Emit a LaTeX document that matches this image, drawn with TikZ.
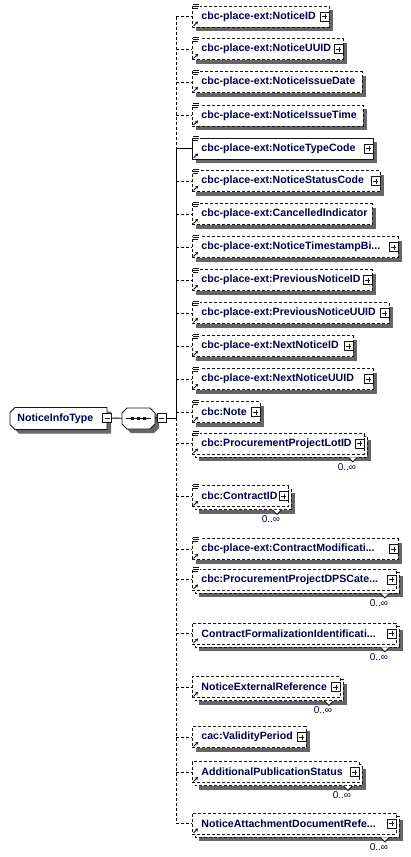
\documentclass[tikz,border=0pt]{standalone}
\usepackage{fontspec}
\setmainfont{Liberation Sans}
\usepackage{xcolor}
\usepackage{tikz}
\usetikzlibrary{arrows.meta}
\newcommand{\xsdrow}[6][4]{%
  \coordinate (#2j) at (176,#3);
  \fill[shd] (192+#1,#3-10.5+#1) rectangle (#4+#1,#3+10.5+#1);
  \ifnum#1>4 \draw[opt,draw=black!92,fill=white] (195,#3-7.5) rectangle (#4+3,#3+13.5);\fi
  \node[xsdbox,#5,minimum width={#4-192}] (#2) at (192,#3) {};
  \node[xsdname] (#2t) at ([xshift=9pt]#2.west) {#6};
  \draw[#5] (#2j) -- (#2);
  \draw[xsdref] ([shift={(1.5,-1.5)}]#2.south west) -- ++(4.5,-4.5);
}
\newcommand{\xsdtype}[1]{%
  \fill[white] ([shift={(0.5,-2.5)}]#1.north west) rectangle ++(7.5,7);
  \draw[xsdicon] ([shift={(1,-1)}]#1.north west) -- ++(6,0)
    ([shift={(1,1)}]#1.north west) -- ++(6,0)
    ([shift={(1,3)}]#1.north west) -- ++(5,0);
}
\newcommand{\xsdplus}[1]{\node[xsdpm,plusbar] (#1p) at ([xshift=-5pt]#1.east) {};}
\newcommand{\xsdmany}[1]{%
  \coordinate (#1n) at ([shift={(-12,3)}]#1.south east);
  \draw[draw=black!92,fill=white] ([xshift=-4.5pt]#1n) -- ([yshift=-4.5pt]#1n) -- ([xshift=4.5pt]#1n);
  \node[xsdcard] (#1c) at ([shift={(-6,9.5)}]#1n) {0..∞};
}

\begin{document}
\begin{tikzpicture}[x=1pt,y=-1pt,line width=0.9pt,
  opt/.style={dash pattern=on 3pt off 2pt},
  req/.style={solid},
  shd/.style={fill=black!60},
  xsdhold/.style={inner sep=0pt,outer sep=0pt},
  xsdbox/.style={draw=black!92,fill=white,anchor=west,minimum height=21pt,inner sep=0pt},
  xsdname/.style={anchor=west,inner sep=0pt,font=\fontsize{10.6}{12}\selectfont\bfseries,text=blue!27!black},
  xsdcard/.style={inner sep=0pt,font=\fontsize{10}{12}\selectfont,text=blue!27!black},
  xsdpm/.style={draw=black!92,solid,fill=white,minimum size=9pt,inner sep=0pt,line width=0.8pt},
  plusbar/.style={path picture={\draw[black!92,line width=0.8pt]
    ([xshift=2pt]path picture bounding box.west) -- ([xshift=-2pt]path picture bounding box.east)
    ([yshift=-2pt]path picture bounding box.north) -- ([yshift=2pt]path picture bounding box.south);}},
  minusbar/.style={path picture={\draw[black!92,line width=0.8pt]
    ([xshift=2pt]path picture bounding box.west) -- ([xshift=-2pt]path picture bounding box.east);}},
  xsdicon/.style={draw=black!92,line width=0.9pt},
  xsdref/.style={draw=black!92,line width=0.9pt,-{Stealth[length=3pt,width=3.5pt]}}]
\useasboundingbox (0,0) rectangle (410,857);

\node[xsdhold,minimum width=97pt,minimum height=22pt] (root) at (58.5,418.5) {};
\fill[shd] ([shift={(9,4)}]root.north west) -- ([shift={(4,4)}]root.north east)
  -- ([shift={(4,4)}]root.south east) -- ([shift={(9,4)}]root.south west) -- ([shift={(4,-1)}]root.south west)
  -- ([shift={(4,9)}]root.north west) -- cycle;
\filldraw[draw=black!92,fill=white] ([xshift=5pt]root.north west) -- (root.north east)
  -- (root.south east) -- ([xshift=5pt]root.south west) -- ([yshift=5pt]root.south west)
  -- ([yshift=-5pt]root.north west) -- cycle;
\node[xsdname] (roott) at ([xshift=7pt]root.west) {NoticeInfoType};
\node[xsdpm,minusbar] (rootm) at (107,418) {};

\node[xsdhold,minimum width=33pt,minimum height=21pt] (seq) at (138.5,418.5) {};
\fill[shd] ([shift={(9,4)}]seq.north west) -- ([shift={(-1,4)}]seq.north east)
  -- ([shift={(4,9)}]seq.north east) -- ([shift={(4,-1)}]seq.south east) -- ([shift={(-1,4)}]seq.south east)
  -- ([shift={(9,4)}]seq.south west) -- ([shift={(4,-1)}]seq.south west) -- ([shift={(4,9)}]seq.north west) -- cycle;
\filldraw[draw=black!92,fill=white] ([xshift=5pt]seq.north west) -- ([xshift=-5pt]seq.north east)
  -- ([yshift=-5pt]seq.north east) -- ([yshift=5pt]seq.south east) -- ([xshift=-5pt]seq.south east)
  -- ([xshift=5pt]seq.south west) -- ([yshift=5pt]seq.south west) -- ([yshift=-5pt]seq.north west) -- cycle;
\draw[black!92] ([xshift=4pt]seq.west) -- ([xshift=-4pt]seq.east);
\foreach \dx in {-6,0,6}
  \fill[black!92] ([shift={(\dx-1.5,-1.5)}]seq.center) rectangle ++(3,3);
\node[xsdpm,minusbar] (seqm) at (161.5,418) {};
\coordinate (jc) at (176,418);
\draw (rootm) -- (seq);
\draw (seq) -- (seqm);
\draw (seqm) -- (jc);

\xsdrow{e1}{16.5}{329}{opt}{cbc-place-ext:NoticeID} \xsdtype{e1} \xsdplus{e1}
\xsdrow{e2}{49}{343}{opt}{cbc-place-ext:NoticeUUID} \xsdtype{e2} \xsdplus{e2}
\xsdrow{e3}{82}{362}{opt}{cbc-place-ext:NoticeIssueDate} \xsdtype{e3}
\xsdrow{e4}{115.5}{363}{opt}{cbc-place-ext:NoticeIssueTime} \xsdtype{e4}
\xsdrow{e5}{148.5}{373}{req}{cbc-place-ext:NoticeTypeCode} \xsdtype{e5} \xsdplus{e5}
\xsdrow{e6}{181}{380}{opt}{cbc-place-ext:NoticeStatusCode} \xsdtype{e6} \xsdplus{e6}
\xsdrow{e7}{214}{372}{opt}{cbc-place-ext:CancelledIndicator} \xsdtype{e7}
\xsdrow{e8}{247}{398}{opt}{cbc-place-ext:NoticeTimestampBi...} \xsdtype{e8} \xsdplus{e8}
\xsdrow{e9}{280}{372}{opt}{cbc-place-ext:PreviousNoticeID} \xsdtype{e9} \xsdplus{e9}
\xsdrow{e10}{313}{389}{opt}{cbc-place-ext:PreviousNoticeUUID} \xsdtype{e10} \xsdplus{e10}
\xsdrow{e11}{346}{353}{opt}{cbc-place-ext:NextNoticeID} \xsdtype{e11} \xsdplus{e11}
\xsdrow{e12}{379}{373}{opt}{cbc-place-ext:NextNoticeUUID} \xsdtype{e12} \xsdplus{e12}
\xsdrow{e13}{412}{260}{opt}{cbc:Note} \xsdtype{e13} \xsdplus{e13}
\xsdrow[7]{e14}{443.5}{364}{opt}{cbc:ProcurementProjectLotID} \xsdtype{e14} \xsdplus{e14} \xsdmany{e14}
\xsdrow[7]{e15}{496}{288}{opt}{cbc:ContractID} \xsdtype{e15} \xsdplus{e15} \xsdmany{e15}
\xsdrow{e16}{549}{398}{opt}{cbc-place-ext:ContractModificati...} \xsdtype{e16} \xsdplus{e16}
\xsdrow[7]{e17}{579.5}{396}{opt}{cbc:ProcurementProjectDPSCate...} \xsdtype{e17} \xsdplus{e17} \xsdmany{e17}
\xsdrow[7]{e18}{633.5}{396}{opt}{ContractFormalizationIdentificati...} \xsdplus{e18} \xsdmany{e18}
\xsdrow[7]{e19}{687}{340}{opt}{NoticeExternalReference} \xsdplus{e19} \xsdmany{e19}
\xsdrow{e20}{737}{306}{opt}{cac:ValidityPeriod} \xsdplus{e20}
\xsdrow[7]{e21}{772}{359}{opt}{AdditionalPublicationStatus} \xsdplus{e21} \xsdmany{e21}
\xsdrow[7]{e22}{823.5}{396}{opt}{NoticeAttachmentDocumentRefe...} \xsdplus{e22} \xsdmany{e22}

\draw[opt] (e1j) -- (e5j);
\draw (e5j) -- (jc);
\draw[opt] (jc) -- (e22j);
\end{tikzpicture}
\end{document}
